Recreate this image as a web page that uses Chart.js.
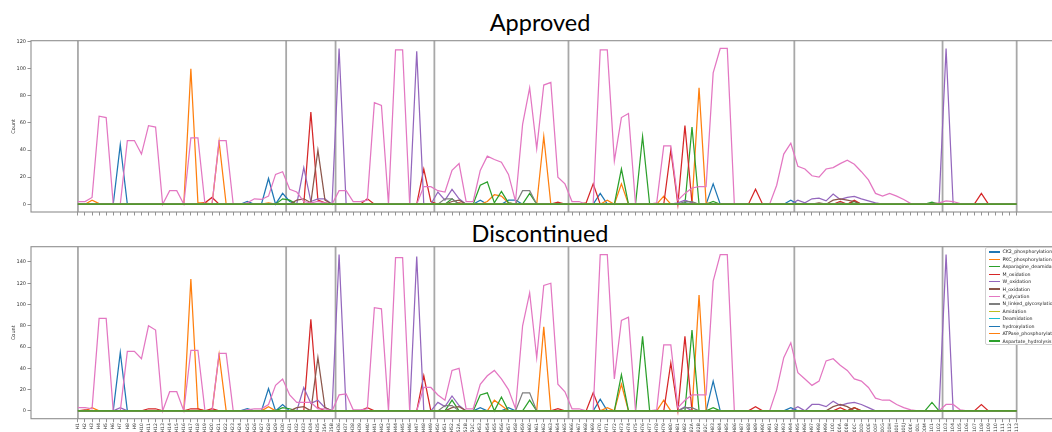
<!DOCTYPE html>
<html>
<head>
<meta charset="utf-8">
<script src="https://cdn.jsdelivr.net/npm/chart.js@4.4.1/dist/chart.umd.min.js"></script>
<style>
  html, body { margin: 0; padding: 0; background: #fff; }
  body { width: 1052px; height: 432px; overflow: hidden; position: relative; }
  canvas { position: absolute; left: 0; }
  .panel-title { position: absolute; left: 0; width: 1080px; text-align: center;
    font-family: 'Lato', sans-serif; font-size: 23.5px; line-height: 24px; color: #000; }
  #legend { position: absolute; left: 985px; top: 247px; width: 90px; height: 96px;
    border: 1px solid #d0d0d0; border-radius: 2px; background: rgba(255,255,255,0.85);
    font-family: 'DejaVu Sans', sans-serif; font-size: 4.7px; color: #222; }
  #legend .item { position: absolute; left: 3px; height: 7.4px; display: flex; align-items: center; white-space: nowrap; }
  #legend .swatch { display: inline-block; width: 11px; height: 1.3px; margin-right: 2.5px; }
</style>
</head>
<body>
<div class="panel-title" style="top:10px">Approved</div>
<div class="panel-title" style="top:221px">Discontinued</div>
<canvas id="approved" width="1070" height="222" style="top:0"></canvas>
<canvas id="discontinued" width="1070" height="220" style="top:230px"></canvas>
<div id="legend"></div>
<script>
// Kabat heavy-chain positions on the shared x axis
const categories = [
  'H1','H2','H3','H4','H5','H6','H7','H8','H9','H10','H11','H12','H13','H14','H15','H16','H17','H18','H19','H20',
  'H21','H22','H23','H24','H25','H26','H27','H28','H29','H30','H31','H32','H33','H34','H35','H35A','H35B',
  'H36','H37','H38','H39','H40','H41','H42','H43','H44','H45','H46','H47','H48','H49','H50','H51','H52',
  'H52A','H52B','H52C',
  'H53','H54','H55','H56','H57','H58','H59','H60','H61','H62','H63','H64','H65','H66','H67','H68','H69','H70',
  'H71','H72','H73','H74','H75','H76','H77','H78','H79','H80','H81','H82','H82A','H82B','H82C',
  'H83','H84','H85','H86','H87','H88','H89','H90','H91','H92','H93','H94','H95','H96','H97','H98','H99','H100',
  'H100A','H100B','H100C','H100D','H100E','H100F','H100G','H100H','H100I','H100J','H100K','H100L','H100M',
  'H101','H102','H103','H104','H105','H106','H107','H108','H109','H110','H111','H112','H113'
];

// framework / CDR boundaries: outer frame positions and first position of each new region
const frameEdges = ['H1', 'H113'];
const regionStarts = ['H31', 'H36', 'H50', 'H66', 'H95', 'H103'];

const approvedYTicks = [0, 20, 40, 60, 80, 100, 120];
const discontinuedYTicks = [0, 20, 40, 60, 80, 100, 120, 140];

const seriesNames = [
  'CK2_phosphorylation', 'PKC_phosphorylation', 'Asparagine_deamidation', 'M_oxidation', 'W_oxidation',
  'H_oxidation', 'K_glycation', 'N_linked_glycosylation', 'Amidation', 'Deamidation', 'hydroxylation',
  'ATPase_phosphorylation', 'Aspartate_hydrolysis'
];
const seriesColors = ['#1f77b4', '#ff7f0e', '#2ca02c', '#d62728', '#9467bd', '#8c564b', '#e377c2',
  '#7f7f7f', '#bcbd22', '#17becf', '#1f77b4', '#ff7f0e', '#2ca02c'];

// ---- Approved: counts per position (positions not listed are 0) ----
const approvedCK2 = [['H7',44],['H25',2],['H28',19],['H30',8],['H31',2],['H53',3],['H57',3],['H58',3],
  ['H70',8],['H82',1],['H83',15],['H94',3]];
const approvedPKC = [['H3',3],['H4',0.5],['H17',100],['H18',1],['H19',1],['H21',46],['H28',1],['H54',2],
  ['H55',7],['H56',6],['H57',1],['H62',50],['H71',3],['H73',15],['H79',6],['H82B',86],['H82C',1]];
const approvedAsnDeamidation = [['H30',4],['H31',3],['H52',4],['H53',14],['H54',16.5],['H55',1],['H56',9.5],
  ['H57',1],['H60',8],['H73',26],['H76',50],['H82A',57],['H83',2],['H100C',2],['H101',1.5]];
const approvedMOxidation = [['H2',0.5],['H19',1],['H20',5],['H34',68],['H35',3],['H35A',1],['H40',4],
  ['H48',26],['H49',2],['H52A',1],['H64',1.5],['H68',1],['H69',15],['H80',40],['H82',58],['H82A',1],
  ['H89',11],['H100A',2],['H100C',3],['H108',8]];
const approvedWOxidation = [['H33',27],['H34',2],['H35',4],['H35A',4],['H36',115],['H47',113],['H50',9],
  ['H51',3],['H52',11],['H52A',4],['H81',1],['H82',3],['H82A',1],['H95',3],['H96',1],['H97',4],['H98',4.5],
  ['H99',2.5],['H100',7.5],['H100A',3.5],['H100B',5],['H100C',5.7],['H100D',4],['H100E',2.5],['H100F',1],
  ['H103',115]];
const approvedHOxidation = [['H32',3],['H33',4],['H34',1],['H35',40],['H35A',3],['H52',2],['H52A',3],
  ['H98',1],['H100',3],['H100A',4],['H100B',3],['H100C',2]];
const approvedKGlycation = [['H1',2],['H2',2],['H3',5],['H4',65],['H5',64],['H8',47],['H9',47],['H10',37],
  ['H11',58],['H12',57],['H14',10],['H15',10],['H17',49],['H18',49],['H21',47],['H22',47],['H25',1],['H26',4],
  ['H27',3.5],['H28',6],['H29',22],['H30',24],['H31',11],['H32',9],['H33',2],['H34',1],['H35',2],['H35A',1],
  ['H36',10],['H37',10],['H38',2],['H39',2],['H40',3],['H41',75],['H42',73],['H44',114],['H45',114],
  ['H48',13],['H49',13],['H50',10],['H51',9],['H52',25],['H52A',30],['H52B',2],['H52C',2],['H53',25],
  ['H54',35.5],['H55',33],['H56',31],['H57',22],['H58',2],['H59',59],['H60',86],['H61',41],['H62',88],
  ['H63',90],['H64',20],['H65',15],['H66',2],['H67',2],['H70',114],['H71',114],['H72',32],['H73',64],
  ['H74',67],['H78',1],['H79',43],['H80',43],['H81',3],['H82',8],['H82A',12],['H82B',13],['H82C',13],
  ['H83',97],['H84',115],['H85',115],['H92',14],['H93',37],['H94',45],['H95',28],['H96',26],['H97',21],
  ['H98',20],['H99',26],['H100',27],['H100A',30],['H100B',32.5],['H100C',29.5],['H100D',24],['H100E',18],
  ['H100F',8],['H100G',6],['H100H',8],['H100I',6],['H100J',3.5],['H100K',0.5],['H101',0.5],['H102',1],
  ['H103',2.5],['H104',2],['H105',0.5]];
const approvedNGlycosylation = [['H51',4],['H52',4],['H59',10],['H60',10],['H82',2],['H82A',2],['H100A',1]];
const approvedAmidation = [];
const approvedDeamidation = [];
const approvedHydroxylation = [];
const approvedATPase = [];
const approvedAspHydrolysis = [];

// ---- Discontinued: counts per position (positions not listed are 0) ----
const discontinuedCK2 = [['H7',55],['H25',2],['H28',21],['H30',6],['H53',3],['H57',3],['H70',11],['H83',28],['H94',3]];
const discontinuedPKC = [['H3',3],['H17',124],['H18',2],['H21',53],['H28',4],['H55',10],['H56',5],['H62',79],
  ['H71',3],['H73',25],['H79',10],['H82B',109]];
const discontinuedAsnDeamidation = [['H30',3],['H31',2],['H52',10],['H53',15],['H54',17],['H56',13],['H60',10],
  ['H73',34],['H76',70],['H82A',76],['H83',3],['H100C',3],['H101',8]];
const discontinuedMOxidation = [['H2',1],['H11',2],['H12',2],['H17',2],['H18',2],['H20',2],['H34',86],['H35',3],
  ['H40',3],['H48',33],['H64',2],['H69',17],['H80',45],['H82',70],['H89',4],['H100A',3],['H100C',3],['H108',6]];
const discontinuedWOxidation = [['H7',3],['H33',22],['H34',7],['H35',10],['H35A',3],['H36',147],['H47',145],
  ['H50',8],['H51',4],['H52',14],['H52A',5],['H82',4],['H95',4],['H97',6],['H98',6],['H99',4],['H100',9],
  ['H100A',5],['H100B',7],['H100C',8],['H100D',6],['H100E',3],['H103',147]];
const discontinuedHOxidation = [['H32',3],['H33',4],['H35',50],['H35A',3],['H52',3],['H52A',4],['H100',4],
  ['H100A',6],['H100B',4]];
const discontinuedKGlycation = [['H1',3],['H2',3],['H3',2],['H4',87],['H5',87],['H8',56],['H9',56],['H10',49],
  ['H11',80],['H12',76],['H14',18],['H15',18],['H17',57],['H18',57],['H21',54],['H22',54],['H25',1],['H26',2],
  ['H27',2],['H28',6],['H29',24],['H30',30],['H31',15],['H32',8],['H33',8],['H34',8],['H35',2],['H35A',2],
  ['H36',15],['H37',16],['H38',1],['H39',1],['H40',2],['H41',97],['H42',96],['H44',144],['H45',144],
  ['H48',22],['H49',22],['H50',15],['H51',10],['H52',38],['H52A',40],['H52B',2],['H52C',2],['H53',25],
  ['H54',33],['H55',38],['H56',30],['H57',20],['H58',2],['H59',80],['H60',111],['H61',50],['H62',118],
  ['H63',120],['H64',25],['H65',18],['H66',2],['H67',2],['H70',147],['H71',147],['H72',30],['H73',85],
  ['H74',88],['H78',1],['H79',62],['H80',62],['H81',3],['H82',10],['H82A',15],['H82B',15],['H82C',15],
  ['H83',122],['H84',147],['H85',147],['H92',20],['H93',50],['H94',64],['H95',36],['H96',30],['H97',24],
  ['H98',28],['H99',47],['H100',49],['H100A',43],['H100B',38],['H100C',30],['H100D',28],['H100E',22],
  ['H100F',12],['H100G',10],['H100H',10],['H100I',6],['H100J',3],['H100K',1],['H103',6],['H104',6],['H105',1]];
const discontinuedNGlycosylation = [['H51',5],['H52',5],['H59',17],['H60',17],['H82',3],['H82A',3]];
const discontinuedAmidation = [];
const discontinuedDeamidation = [];
const discontinuedHydroxylation = [];
const discontinuedATPase = [];
const discontinuedAspHydrolysis = [];

const approvedSeries = [approvedCK2, approvedPKC, approvedAsnDeamidation, approvedMOxidation, approvedWOxidation,
  approvedHOxidation, approvedKGlycation, approvedNGlycosylation, approvedAmidation, approvedDeamidation,
  approvedHydroxylation, approvedATPase, approvedAspHydrolysis];
const discontinuedSeries = [discontinuedCK2, discontinuedPKC, discontinuedAsnDeamidation, discontinuedMOxidation,
  discontinuedWOxidation, discontinuedHOxidation, discontinuedKGlycation, discontinuedNGlycosylation,
  discontinuedAmidation, discontinuedDeamidation, discontinuedHydroxylation, discontinuedATPase,
  discontinuedAspHydrolysis];

// one value per category; unlisted positions have no modification (0)
function expand(readings) {
  const m = new Map(readings);
  return categories.map((c, i) => ({ x: i, y: m.has(c) ? m.get(c) : 0 }));
}

// axes frame and region separators
const framePlugin = {
  id: 'frame',
  beforeDatasetsDraw(chart) {
    const { ctx, chartArea: a, scales: { x } } = chart;
    const positions = [
      ...frameEdges.map(c => categories.indexOf(c)),
      ...regionStarts.map(c => categories.indexOf(c) - 0.5)
    ];
    ctx.save();
    ctx.strokeStyle = '#a8a8a8';
    ctx.lineWidth = 1.8;
    positions.forEach(p => {
      const px = x.getPixelForValue(p);
      ctx.beginPath();
      ctx.moveTo(px, a.top);
      ctx.lineTo(px, a.bottom);
      ctx.stroke();
    });
    ctx.restore();
  },
  afterDraw(chart) {
    const { ctx, chartArea: a } = chart;
    ctx.save();
    ctx.strokeStyle = '#8f8f8f';
    ctx.lineWidth = 1.1;
    ctx.strokeRect(a.left, a.top, a.right - a.left, a.bottom - a.top);
    ctx.restore();
  }
};

const tickFont = { family: 'DejaVu Sans', size: 5 };

function buildChart(canvasId, seriesList, yTicks, showXLabels, padTop, xAxisHeight) {
  const datasets = seriesNames.map((name, i) => ({
    label: name,
    data: expand(seriesList[i]),
    borderColor: seriesColors[i],
    backgroundColor: seriesColors[i],
    borderWidth: 1.25,
    pointRadius: 0,
    tension: 0,
    fill: false,
    order: seriesNames.length - i
  }));
  const peak = Math.max(...datasets.flatMap(d => d.data.map(p => p.y)));
  const last = categories.length - 1;
  return new Chart(document.getElementById(canvasId), {
    type: 'line',
    data: { datasets },
    options: {
      responsive: false,
      animation: false,
      devicePixelRatio: 1,
      layout: { padding: { top: padTop, right: 6.4, left: 0, bottom: 0 } },
      plugins: { legend: { display: false }, tooltip: { enabled: false } },
      scales: {
        x: {
          type: 'linear',
          min: -0.05 * last,
          max: last * 1.05,
          afterBuildTicks: ax => { ax.ticks = categories.map((c, i) => ({ value: i })); },
          afterFit: ax => { ax.height = xAxisHeight; },
          border: { display: false },
          grid: { drawOnChartArea: false, drawTicks: true, tickLength: 3.5, color: '#777', lineWidth: 0.8 },
          ticks: {
            display: showXLabels, autoSkip: false, minRotation: 90, maxRotation: 90, padding: 1,
            font: { family: 'DejaVu Sans', size: 4.6 }, color: '#333',
            callback: v => categories[v]
          }
        },
        y: {
          min: -0.05 * peak,
          max: peak * 1.05,
          afterBuildTicks: ax => { ax.ticks = yTicks.map(v => ({ value: v })); },
          afterFit: ax => { ax.width = 31; },
          border: { display: false },
          grid: { drawOnChartArea: false, drawTicks: true, tickLength: 3.5, color: '#777', lineWidth: 0.8 },
          ticks: { font: tickFont, color: '#333', padding: 1.5 },
          title: { display: true, text: 'Count', font: tickFont, color: '#333', padding: { top: 11, bottom: 0 } }
        }
      }
    },
    plugins: [framePlugin]
  });
}

buildChart('approved', approvedSeries, approvedYTicks, false, 40.7, 10);
buildChart('discontinued', discontinuedSeries, discontinuedYTicks, true, 16.7, 31.3);

// legend
const legend = document.getElementById('legend');
seriesNames.forEach((name, i) => {
  const item = document.createElement('div');
  item.className = 'item';
  item.style.top = (0.3 + i * 7.42) + 'px';
  const sw = document.createElement('span');
  sw.className = 'swatch';
  sw.style.backgroundColor = seriesColors[i];
  const tx = document.createElement('span');
  tx.textContent = name;
  item.appendChild(sw);
  item.appendChild(tx);
  legend.appendChild(item);
});
</script>
</body>
</html>
